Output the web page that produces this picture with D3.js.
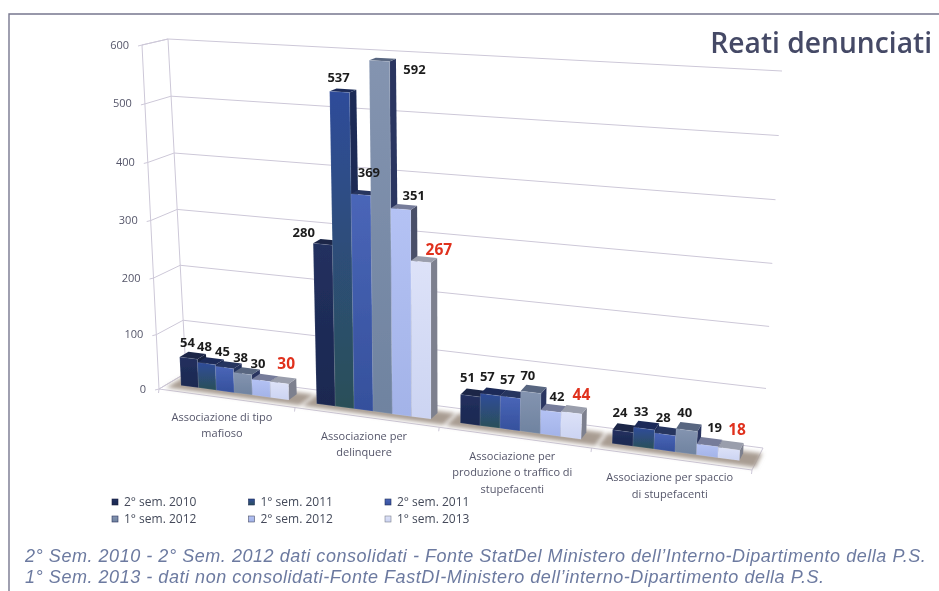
<!DOCTYPE html>
<html><head><meta charset="utf-8">
<script src="https://cdn.jsdelivr.net/npm/d3@7"></script>
<style>html,body{margin:0;padding:0;background:#fff}svg{display:block}</style>
</head><body><svg id="c" width="939" height="591"></svg>
<script>
// ---------- data ----------
const categories = [["Associazione di tipo","mafioso"],["Associazione per","delinquere"],["Associazione per","produzione o traffico di","stupefacenti"],["Associazione per spaccio","di stupefacenti"]];
const seriesNames = ["2° sem. 2010","1° sem. 2011","2° sem. 2011","1° sem. 2012","2° sem. 2012","1° sem. 2013"];
const sem2010b = [54,280,51,24];
const sem2011a = [48,537,57,33];
const sem2011b = [45,369,57,28];
const sem2012a = [38,592,70,40];
const sem2012b = [30,351,42,19];
const sem2013a = [30,267,44,18];
const seriesValues = [sem2010b,sem2011a,sem2011b,sem2012a,sem2012b,sem2013a];
const tickValues = [0,100,200,300,400,500,600];
const title = "Reati denunciati";
const notes = ["2° Sem. 2010 - 2° Sem. 2012 dati consolidati - Fonte StatDel Ministero dell’Interno-Dipartimento della P.S.","1° Sem. 2013 - dati non consolidati-Fonte FastDI-Ministero dell’interno-Dipartimento della P.S."];

// ---------- style / layout ----------
const frontGrad = [["#22305f","#1b2850"],["#2f4c9a","#2b5058"],["#4a66b8","#35509c"],["#8494b0","#6f83a0"],["#b4c2f4","#a3b3e8"],["#dde2f8","#ccd4f2"]];
const sideCol = ["#18213f","#1d2b55","#24305c","#2a3560","#4a4f68","#7d808e"];
const topCol  = ["#1a2547","#1e2c58","#26345f","#586680","#767c9a","#9a9eac"];
const labelNudge = [
 [[-1,0],[-2,-2],[-2,-1],[-2,-1],[-3,-1],[7,-3]],
 [[-19,4],[-1,1],[8,-7],[35,24],[13,2],[18,4]],
 [[-3,-3],[-3,-3],[-3,-2],[-3,-1],[6,1],[10,-2]],
 [[-3,-3],[-3,-2],[-2,-1],[-2,-2],[7,-2],[8,-3]]];
const catNudge = [-4,-2,-2,-1];
const fl={x:159,y:389}, bl={x:186,y:373}, br={x:763,y:448}, fr={x:752,y:470};
const vfl={x:-17,y:-344}, vbl={x:-18,y:-334}, vbr={x:19,y:-377}, vfr={x:22,y:-388};
const warp=.11;
const lerp=(a,b,t)=>({x:a.x+(b.x-a.x)*t,y:a.y+(b.y-a.y)*t});
const bil=(a,b,c,d,u,v)=>lerp(lerp(a,d,u),lerp(b,c,u),v); // a front-left, b back-left, c back-right, d front-right
const hScale=d3.scalePow().exponent(1.03).domain([0,600]).range([0,1]);
function P(t,v,val){
  const u=t*(1-warp)+warp*t*t;
  const b=bil(fl,bl,br,fr,u,v), h=bil(vfl,vbl,vbr,vfr,u,v), k=hScale(val);
  return [b.x+h.x*k,b.y+h.y*k];
}
const band=d3.scaleBand().domain(d3.range(categories.length)).range([0,1]).paddingInner(.2).paddingOuter(.1);
const inner=d3.scaleBand().domain(d3.range(seriesNames.length)).range([0,band.bandwidth()]);
const vF=.33,vB=.66;
const line=d3.line();
const poly=pts=>line(pts)+"Z";

const svg=d3.select("#c");
const defs=svg.append("defs");
defs.append("filter").attr("id","soft").attr("x","-5%").attr("y","-5%").attr("width","110%").attr("height","110%")
  .append("feGaussianBlur").attr("stdDeviation",.45);
defs.append("filter").attr("id","shadow").attr("x","-20%").attr("y","-60%").attr("width","140%").attr("height","220%")
  .append("feGaussianBlur").attr("stdDeviation",2);
frontGrad.forEach((g,i)=>{
  const lg=defs.append("linearGradient").attr("id","g"+i).attr("x1",0).attr("x2",0).attr("y1",0).attr("y2",1);
  lg.append("stop").attr("offset","0%").attr("stop-color",g[0]);
  lg.append("stop").attr("offset","100%").attr("stop-color",g[1]);
});

const root=svg.append("g").attr("filter","url(#soft)");
// frame
root.append("path").attr("d","M9,591V14H939").attr("fill","none").attr("stroke","#77778f").attr("stroke-width",1.4);

// walls & floor
const gridC="#cdc8d8";
const wall=root.append("g").attr("fill","none").attr("stroke",gridC).attr("stroke-width",1);
wall.append("path").attr("d",poly([P(0,0,0),P(0,0,600),P(0,1,600),P(0,1,0)]));
wall.selectAll("path.g").data(tickValues.slice(1)).join("path").attr("class","g")
  .attr("d",d=>line([P(0,0,d),P(0,1,d),P(1,1,d)]));
wall.append("path").attr("d",poly([P(0,0,0),P(0,1,0),P(1,1,0),P(1,0,0)]));
wall.selectAll("path.t").data(d3.range(categories.length+1)).join("path").attr("class","t")
  .attr("d",i=>{const tt=i/categories.length,p=P(tt,0,0);return line([p,[p[0]-.5,p[1]+4]]);});
wall.selectAll("path.a").data(tickValues).join("path").attr("class","a")
  .attr("d",d=>{const p=P(0,0,d);return line([p,[p[0]-4,p[1]+1]]);});

// axis labels
root.append("g").selectAll("text").data(tickValues).join("text")
  .attr("x",d=>P(0,0,d)[0]-13).attr("y",d=>P(0,0,d)[1]+3.5).attr("text-anchor","end")
  .attr("font-family","'Open Sans'").attr("font-size",11).attr("fill","#55566a").text(d=>d);

// bars
categories.forEach((c,ci)=>{
  const g=root.append("g");
  const t0=band(ci);
  const tW=band.bandwidth();
  g.append("path").attr("filter","url(#shadow)").attr("fill","#a89c92")
    .attr("d",poly([P(t0-.018,vF-.2,0),P(t0-.018,vB+.1,0),P(t0+tW+.028,vB+.1,0),P(t0+tW+.028,vF-.2,0)]));
  seriesNames.forEach((s,si)=>{
    const a=t0+inner(si), b=a+inner.bandwidth(), val=seriesValues[si][ci];
    const bar=g.append("g");
    bar.append("path").attr("fill",sideCol[si]).attr("d",poly([P(b,vF,0),P(b,vF,val),P(b,vB,val),P(b,vB,0)]));
    bar.append("path").attr("fill",topCol[si]).attr("d",poly([P(a,vF,val),P(a,vB,val),P(b,vB,val),P(b,vF,val)]));
    bar.append("path").attr("fill",`url(#g${si})`).attr("stroke","#ffffff").attr("stroke-opacity",.18).attr("stroke-width",.6)
      .attr("d",poly([P(a,vF,0),P(a,vF,val),P(b,vF,val),P(b,vF,0)]));
  });
});
// data labels (above all bars)
categories.forEach((c,ci)=>{
  seriesNames.forEach((s,si)=>{
    const a=band(ci)+inner(si), val=seriesValues[si][ci], p=P(a+inner.bandwidth()/2,vF,val);
    const red=si===seriesNames.length-1;
    root.append("text").attr("x",p[0]+labelNudge[ci][si][0]).attr("y",p[1]-11+labelNudge[ci][si][1])
      .attr("text-anchor","middle").attr("font-family","'Open Sans'").attr("font-weight",700)
      .attr("font-size",red?15.5:13).attr("fill",red?"#e0301e":"#1c1c1c").text(val);
  });
});
// category labels
categories.forEach((c,ci)=>{
  const p=P(band(ci)+band.bandwidth()/2,0,0);
  c.forEach((ln,li)=>root.append("text").attr("x",p[0]+catNudge[ci]).attr("y",p[1]+22.5+li*16.3)
    .attr("text-anchor","middle").attr("font-family","'Open Sans'").attr("font-size",11).attr("fill","#55566a").text(ln));
});
// legend
const legX=d3.scalePoint().domain([0,1,2]).range([115,388]);
const legY=d3.scalePoint().domain([0,1]).range([502,519]);
seriesNames.forEach((s,i)=>{
  const x=legX(i%3), y=legY(Math.floor(i/3));
  root.append("rect").attr("x",x-3).attr("y",y-3).attr("width",6).attr("height",6).attr("fill",`url(#g${i})`).attr("stroke",sideCol[i]).attr("stroke-width",.6);
  root.append("text").attr("x",x+9).attr("y",y+4).attr("font-family","'Open Sans'").attr("font-size",12).attr("fill","#444a5a").text(s);
});
// title and notes
root.append("text").attr("x",932).attr("y",53).attr("text-anchor","end").attr("font-family","'Open Sans'").attr("font-weight",600).attr("font-size",28.2).attr("fill","#454a66").text(title);
notes.forEach((n,i)=>root.append("text").attr("x",25).attr("y",562+i*20.8).attr("font-family","'Liberation Sans'").attr("font-style","italic").attr("font-size",18).attr("letter-spacing",.54).attr("fill","#6c7aa0").text(n));
</script></body></html>
